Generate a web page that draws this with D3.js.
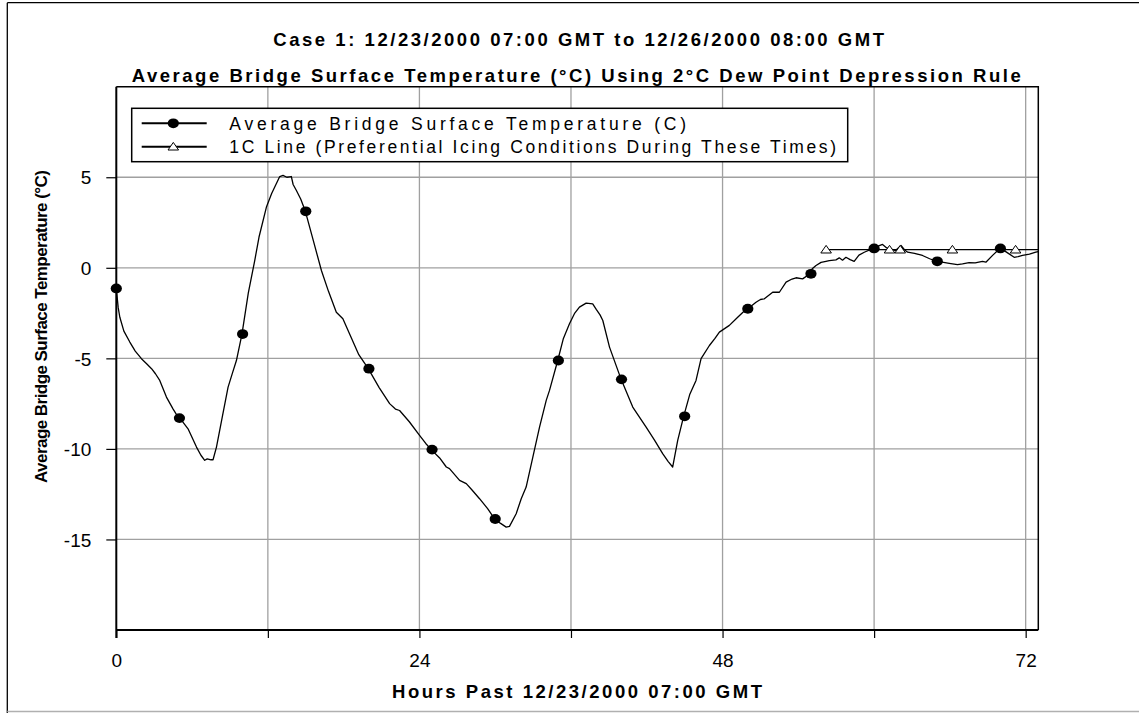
<!DOCTYPE html>
<html>
<head>
<meta charset="utf-8">
<script src="https://cdn.jsdelivr.net/npm/d3@7"></script>
<style>
  body { margin: 0; background: #fff; }
  svg { display: block; font-family: Arial, "Liberation Sans", sans-serif; }
</style>
</head>
<body>
<svg id="chart" width="1139" height="713"></svg>
<script>
// ---------- data ----------
const titleLine1 = "Case 1: 12/23/2000 07:00 GMT to 12/26/2000 08:00 GMT";
const titleLine2 = "Average Bridge Surface Temperature (°C) Using 2°C Dew Point Depression Rule";
const xAxisTitle = "Hours Past 12/23/2000 07:00 GMT";
const yAxisTitle = "Average Bridge Surface Temperature (°C)";
const seriesNames = ["Average Bridge Surface Temperature (C)", "1C Line (Preferential Icing Conditions During These Times)"];

const xTickValues = [0, 12, 24, 36, 48, 60, 72];
const xTickLabels = ["0", "", "24", "", "48", "", "72"];
const yTickValues = [-15, -10, -5, 0, 5];
const yTickLabels = ["-15", "-10", "-5", "0", "5"];

const tempHours = [0, 0.15, 0.28, 0.6, 1.07, 1.5, 1.99, 2.4, 2.79, 3.1, 3.44, 3.97, 4.5, 4.94, 5.2, 5.68, 6.35, 6.7, 7.0, 7.2, 7.5, 7.66, 7.93, 8.4, 8.85, 9.2, 9.51, 9.95, 10.45, 10.96, 11.3, 11.88, 12.3, 12.94, 13.2, 13.5, 13.86, 14.0, 14.26, 14.6, 14.97, 15.6, 16.24, 16.8, 17.42, 17.94, 18.5, 19.2, 19.95, 20.8, 21.64, 22.1, 22.43, 23.2, 24.01, 24.5, 24.94, 25.6, 26.13, 26.38, 27.18, 27.71, 28.2, 28.76, 29.4, 29.95, 30.4, 30.87, 31.13, 31.66, 32.06, 32.45, 32.98, 33.51, 34.04, 34.3, 34.95, 35.4, 35.88, 36.3, 36.67, 37.2, 37.72, 38.0, 38.3, 38.52, 39.05, 39.97, 40.89, 41.95, 42.6, 43.26, 43.7, 44.05, 44.45, 44.92, 45.4, 45.9, 46.3, 46.96, 47.4, 47.75, 48.54, 49.2, 49.91, 50.3, 50.65, 51.0, 51.31, 51.97, 52.5, 53.03, 53.5, 53.82, 54.34, 54.92, 55.1, 55.4, 55.8, 56.19, 56.45, 56.98, 57.24, 57.5, 57.77, 58.1, 58.42, 58.8, 59.22, 59.93, 60.3, 60.67, 61.0, 61.3, 61.7, 62.13, 62.4, 62.65, 63.2, 63.83, 64.4, 64.94, 65.5, 65.95, 66.6, 67.0, 67.52, 68.0, 68.58, 68.85, 69.4, 69.96, 70.3, 70.69, 71.09, 71.4, 71.75, 72.3, 72.8, 73.0];
const tempValues = [-1.14, -2.2, -2.73, -3.5, -4.1, -4.6, -5.02, -5.3, -5.57, -5.85, -6.22, -7.14, -7.8, -8.3, -8.45, -8.89, -9.9, -10.35, -10.63, -10.55, -10.6, -10.6, -9.9, -8.2, -6.59, -5.8, -5.12, -3.66, -1.4, 0.4, 1.7, 3.34, 4.1, 5.04, 5.1, 5.0, 5.04, 4.6, 4.27, 3.8, 3.12, 1.5, -0.15, -1.3, -2.45, -2.81, -3.7, -4.8, -5.57, -6.6, -7.5, -7.8, -7.88, -8.5, -9.25, -9.7, -10.04, -10.5, -11.0, -11.09, -11.74, -11.92, -12.3, -12.75, -13.3, -13.87, -14.1, -14.32, -14.28, -13.58, -12.75, -12.11, -10.45, -8.8, -7.32, -6.77, -5.12, -3.9, -3.09, -2.5, -2.17, -1.95, -1.99, -2.3, -2.6, -2.91, -4.38, -6.16, -7.69, -8.8, -9.5, -10.26, -10.7, -11.0, -9.53, -8.2, -7.0, -6.22, -5.02, -4.29, -3.9, -3.55, -3.18, -2.73, -2.26, -2.1, -1.9, -1.75, -1.71, -1.35, -1.35, -0.79, -0.62, -0.55, -0.61, -0.33, -0.05, 0.13, 0.3, 0.36, 0.4, 0.44, 0.55, 0.42, 0.58, 0.45, 0.36, 0.7, 0.86, 1.07, 1.2, 1.29, 1.1, 1.05, 0.95, 1.23, 1.0, 0.86, 0.8, 0.68, 0.5, 0.36, 0.3, 0.25, 0.18, 0.22, 0.29, 0.27, 0.36, 0.31, 0.7, 1.07, 0.95, 0.77, 0.58, 0.62, 0.68, 0.75, 0.86, 0.9];

const dotHours = [0, 5, 10, 15, 20, 25, 30, 35, 40, 45, 50, 55, 60, 65, 70];
const dotValues = [-1.14, -8.3, -3.66, 3.12, -5.57, -10.04, -13.87, -5.12, -6.16, -8.2, -2.26, -0.33, 1.07, 0.36, 1.07];

const icingLineHours = [56.2, 73];
const icingLineValues = [1, 1];
const triangleHours = [56.2, 61.22, 62.07, 66.2, 71.2];
const triangleValues = [1, 1, 1, 1, 1];

// ---------- layout ----------
const svg = d3.select("#chart");
const plot = { left: 116.3, right: 1038.3, top: 86.7, bottom: 630 };
const x = d3.scaleLinear().domain([0, 73]).range([plot.left, plot.right]);
const y = d3.scaleLinear().domain([-20, 10]).range([plot.bottom, plot.top]);
const gridColor = "#a0a0a0";

// outer frame
svg.append("line").attr("x1", 7.3).attr("x2", 1139).attr("y1", 2.7).attr("y2", 2.7).attr("stroke", "#000").attr("stroke-width", 1.3);
svg.append("line").attr("x1", 7.3).attr("x2", 7.3).attr("y1", 2.7).attr("y2", 713).attr("stroke", "#000").attr("stroke-width", 1.3);
svg.append("line").attr("x1", 7.3).attr("x2", 1139).attr("y1", 711.5).attr("y2", 711.5).attr("stroke", "#b0b0b0").attr("stroke-width", 1.3);

// gridlines
svg.append("g").selectAll("line.hg").data(yTickValues).join("line")
  .attr("x1", plot.left).attr("x2", plot.right)
  .attr("y1", d => y(d)).attr("y2", d => y(d))
  .attr("stroke", gridColor).attr("stroke-width", 1.3);
svg.append("g").selectAll("line.vg").data(xTickValues.filter(d => d > 0)).join("line")
  .attr("x1", d => x(d)).attr("x2", d => x(d))
  .attr("y1", plot.top).attr("y2", plot.bottom)
  .attr("stroke", gridColor).attr("stroke-width", 1.3);

// plot border (top/right)
svg.append("path")
  .attr("d", `M${plot.left},${plot.top}H${plot.right}V${plot.bottom}`)
  .attr("fill", "none").attr("stroke", "#000").attr("stroke-width", 1.5);

// axes
const xAxis = d3.axisBottom(x).tickValues(xTickValues).tickSize(8).tickSizeOuter(0)
  .tickFormat((d, i) => xTickLabels[i]);
const gx = svg.append("g").attr("transform", `translate(0,${plot.bottom})`).call(xAxis);
gx.select(".domain").attr("stroke-width", 2).attr("d", `M${plot.left},0H${plot.right}`);
gx.selectAll(".tick line").attr("stroke-width", 1.2);
gx.selectAll(".tick text").attr("font-size", 19).attr("font-family", "Arial, 'Liberation Sans', sans-serif")
  .attr("y", 0).attr("dy", 0).attr("transform", "translate(0,37)").attr("fill", "#000");

const yAxis = d3.axisLeft(y).tickValues(yTickValues).tickSize(10).tickSizeOuter(0)
  .tickFormat((d, i) => yTickLabels[i]);
const gy = svg.append("g").attr("transform", `translate(${plot.left},0)`).call(yAxis);
gy.select(".domain").attr("stroke-width", 2).attr("d", `M0,${plot.top}V${plot.bottom + 8}`);
gy.selectAll(".tick line").attr("stroke-width", 1.2);
gy.selectAll(".tick text").attr("font-size", 19).attr("font-family", "Arial, 'Liberation Sans', sans-serif")
  .attr("x", -25).attr("dy", "0.35em").attr("fill", "#000");

// temperature line
const tempData = tempHours.map((h, i) => [h, tempValues[i]]);
const line = d3.line().x(d => x(d[0])).y(d => y(d[1]));
svg.append("path").datum(tempData).attr("d", line)
  .attr("fill", "none").attr("stroke", "#000").attr("stroke-width", 1.3).attr("stroke-linejoin", "round");

// 1C line
const icingData = icingLineHours.map((h, i) => [h, icingLineValues[i]]);
svg.append("path").datum(icingData).attr("d", line)
  .attr("fill", "none").attr("stroke", "#000").attr("stroke-width", 1.3);

// dots
svg.append("g").selectAll("ellipse").data(dotHours.map((h, i) => [h, dotValues[i]])).join("ellipse")
  .attr("cx", d => x(d[0])).attr("cy", d => y(d[1])).attr("rx", 5.6).attr("ry", 4.9).attr("fill", "#000");

// triangles
const tri = (cx, cy) => `M${cx},${cy - 4.3}L${cx + 5.3},${cy + 3.3}L${cx - 5.3},${cy + 3.3}Z`;
svg.append("g").selectAll("path").data(triangleHours.map((h, i) => [h, triangleValues[i]])).join("path")
  .attr("d", d => tri(x(d[0]), y(d[1])))
  .attr("fill", "#fff").attr("stroke", "#000").attr("stroke-width", 1);

// legend
const lg = svg.append("g");
lg.append("rect").attr("x", 131.7).attr("y", 108.3).attr("width", 716).attr("height", 53.4)
  .attr("fill", "#fff").attr("stroke", "#000").attr("stroke-width", 1.5);
const legendY = [123.3, 146.7];
const legendEnd = [686, 836];
seriesNames.forEach((name, i) => {
  lg.append("line").attr("x1", 141.7).attr("x2", 206.7).attr("y1", legendY[i]).attr("y2", legendY[i])
    .attr("stroke", "#000").attr("stroke-width", 2);
  if (i === 0) {
    lg.append("ellipse").attr("cx", 173.3).attr("cy", legendY[i]).attr("rx", 5.6).attr("ry", 4.9).attr("fill", "#000");
  } else {
    lg.append("path").attr("d", tri(173.3, legendY[i])).attr("fill", "#fff").attr("stroke", "#000").attr("stroke-width", 1);
  }
  lg.append("text").attr("x", 229.3).attr("y", legendY[i] + 6.3)
    .attr("font-size", 17.5).attr("textLength", legendEnd[i] - 229.3).attr("lengthAdjust", "spacing")
    .attr("fill", "#000").text(name);
});

// titles
const titleSize = 18.5;
svg.append("text").attr("x", 273.3).attr("y", 46).attr("font-size", titleSize).attr("font-weight", "bold")
  .attr("textLength", 884 - 273.3).attr("lengthAdjust", "spacing").text(titleLine1);
svg.append("text").attr("x", 131.7).attr("y", 82).attr("font-size", titleSize).attr("font-weight", "bold")
  .attr("textLength", 1020.7 - 131.7).attr("lengthAdjust", "spacing").text(titleLine2);
svg.append("text").attr("x", 392).attr("y", 698).attr("font-size", titleSize).attr("font-weight", "bold")
  .attr("textLength", 762 - 392).attr("lengthAdjust", "spacing").text(xAxisTitle);
svg.append("text").attr("transform", "translate(47,483) rotate(-90)").attr("x", 0).attr("y", 0)
  .attr("font-size", 17).attr("font-weight", "bold")
  .attr("textLength", 483 - 170).attr("lengthAdjust", "spacing").text(yAxisTitle);
</script>
</body>
</html>
